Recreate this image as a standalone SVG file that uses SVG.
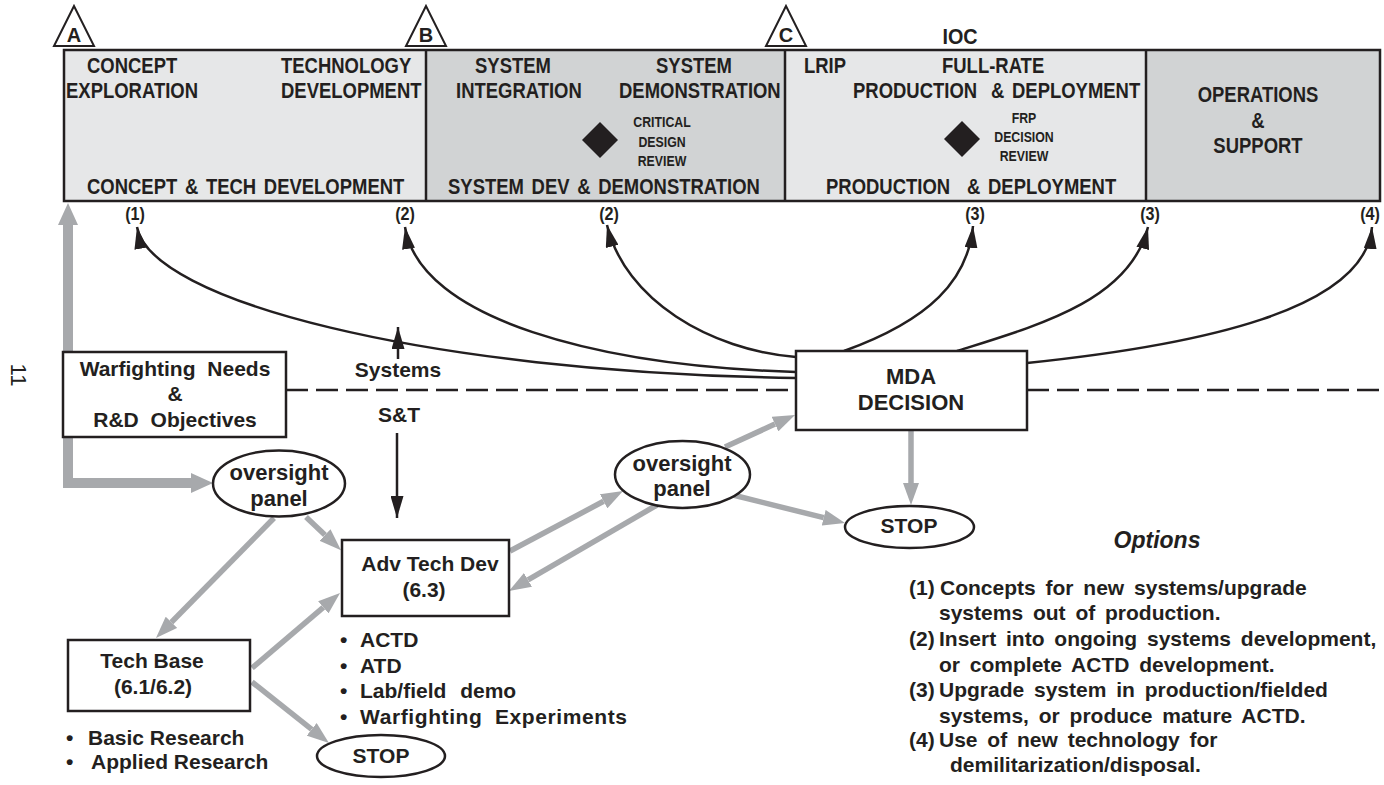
<svg xmlns="http://www.w3.org/2000/svg" width="1384" height="785" viewBox="0 0 1384 785">
<defs>
<style>
text { font-family: "Liberation Sans", Arial, sans-serif; font-weight: bold; fill: #231f20; }
.hdr { font-size: 22px; word-spacing: 3px; }
.sm { font-size: 14px; text-anchor: middle; }
.num { font-size: 19px; text-anchor: middle; }
.t { font-size: 21px; }
.mid { text-anchor: middle; }
.opt { font-size: 21px; word-spacing: 4px; }
.box { fill: #fff; stroke: #231f20; stroke-width: 2.5; }
.lt { fill: #e6e7e8; }
.dk { fill: #d1d3d4; }
.edge { fill: none; stroke: #231f20; stroke-width: 2.5; }
.blk { fill: none; stroke: #231f20; stroke-width: 2.5; marker-end: url(#ah); }
.gry { fill: none; stroke: #a7a9ac; stroke-width: 5.5; marker-end: url(#gh); }
.tri { fill: #fff; stroke: #231f20; stroke-width: 2; }
</style>
<marker id="ah" markerUnits="userSpaceOnUse" markerWidth="22" markerHeight="13" refX="22" refY="6.5" orient="auto" viewBox="0 0 22 13"><path d="M0,0 L22,6.5 L0,13 z" fill="#231f20"/></marker>
<marker id="gh" markerUnits="userSpaceOnUse" markerWidth="22" markerHeight="16" refX="0" refY="8" orient="auto" viewBox="0 0 22 16"><path d="M0,0 L22,8 L0,16 z" fill="#a7a9ac"/></marker>
<marker id="th" markerUnits="userSpaceOnUse" markerWidth="22" markerHeight="20" refX="0" refY="10" orient="auto-start-reverse" viewBox="0 0 22 20"><path d="M0,0 L22,10 L0,20 z" fill="#a7a9ac"/></marker>
</defs>
<rect width="1384" height="785" fill="#fff"/>

<g id="phases">
<rect x="64" y="50" width="362" height="151" class="lt"/>
<rect x="426" y="50" width="359" height="151" class="dk"/>
<rect x="785" y="50" width="361" height="151" class="lt"/>
<rect x="1146" y="50" width="234" height="151" class="dk"/>
<rect x="64" y="50" width="1316" height="151" class="edge"/>
<line x1="426" y1="50" x2="426" y2="201" class="edge"/>
<line x1="785" y1="50" x2="785" y2="201" class="edge"/>
<line x1="1146" y1="50" x2="1146" y2="201" class="edge"/>
</g>

<g id="milestone-A">
<polygon points="74,6 54,46 94,46" class="tri"/>
<text x="74" y="42" class="mid" font-size="20">A</text>
</g>
<g id="milestone-B">
<polygon points="426,6 406,46 446,46" class="tri"/>
<text x="426" y="42" class="mid" font-size="20">B</text>
</g>
<g id="milestone-C">
<polygon points="786,6 766,46 806,46" class="tri"/>
<text x="786" y="42" class="mid" font-size="20">C</text>
</g>
<text transform="translate(960,44) scale(0.9,1)" class="mid" font-size="22">IOC</text>

<g id="phase-concept">
<text transform="translate(87,73) scale(0.84,1)" class="hdr">CONCEPT</text>
<text transform="translate(66,98) scale(0.84,1)" class="hdr">EXPLORATION</text>
<text transform="translate(281,73) scale(0.84,1)" class="hdr">TECHNOLOGY</text>
<text transform="translate(281,98) scale(0.84,1)" class="hdr">DEVELOPMENT</text>
<text transform="translate(87,194) scale(0.84,1)" class="hdr">CONCEPT &amp; TECH DEVELOPMENT</text>
</g>

<g id="phase-sdd">
<text transform="translate(475,73) scale(0.84,1)" class="hdr">SYSTEM</text>
<text transform="translate(456,98) scale(0.84,1)" class="hdr">INTEGRATION</text>
<text transform="translate(656,73) scale(0.84,1)" class="hdr">SYSTEM</text>
<text transform="translate(619,98) scale(0.84,1)" class="hdr">DEMONSTRATION</text>
<polygon points="600,122 618,140 600,158 582,140" fill="#231f20"/>
<text transform="translate(662,127) scale(0.88,1)" class="sm" font-size="15">CRITICAL</text>
<text transform="translate(662,147) scale(0.88,1)" class="sm" font-size="15">DESIGN</text>
<text transform="translate(662,166) scale(0.88,1)" class="sm" font-size="15">REVIEW</text>
<text transform="translate(448,194) scale(0.84,1)" class="hdr">SYSTEM DEV &amp; DEMONSTRATION</text>
</g>

<g id="phase-pd">
<text transform="translate(804,73) scale(0.84,1)" class="hdr">LRIP</text>
<text transform="translate(942,73) scale(0.84,1)" class="hdr">FULL-RATE</text>
<text transform="translate(853,98) scale(0.84,1)" class="hdr">PRODUCTION</text>
<text transform="translate(991,98) scale(0.84,1)" class="hdr">&amp; DEPLOYMENT</text>
<polygon points="962,121 980,139 962,157 944,139" fill="#231f20"/>
<text transform="translate(1024,123) scale(0.88,1)" class="sm" font-size="15">FRP</text>
<text transform="translate(1024,142) scale(0.88,1)" class="sm" font-size="15">DECISION</text>
<text transform="translate(1024,161) scale(0.88,1)" class="sm" font-size="15">REVIEW</text>
<text transform="translate(826,194) scale(0.84,1)" class="hdr">PRODUCTION</text>
<text transform="translate(967,194) scale(0.84,1)" class="hdr">&amp; DEPLOYMENT</text>
</g>

<g id="phase-os">
<text transform="translate(1258,102) scale(0.84,1)" class="hdr mid">OPERATIONS</text>
<text transform="translate(1258,128) scale(0.84,1)" class="hdr mid">&amp;</text>
<text transform="translate(1258,153) scale(0.84,1)" class="hdr mid">SUPPORT</text>
</g>

<g id="option-labels">
<text transform="translate(135,220) scale(0.85,1)" class="num" font-size="21">(1)</text>
<text transform="translate(405,220) scale(0.85,1)" class="num" font-size="21">(2)</text>
<text transform="translate(609,220) scale(0.85,1)" class="num" font-size="21">(2)</text>
<text transform="translate(975,220) scale(0.85,1)" class="num" font-size="21">(3)</text>
<text transform="translate(1150,220) scale(0.85,1)" class="num" font-size="21">(3)</text>
<text transform="translate(1370,220) scale(0.85,1)" class="num" font-size="21">(4)</text>
</g>

<g id="connectors">
<path d="M796,378 C420,372 150,300 137,227" class="blk"/>
<path d="M796,372 C600,366 420,320 405,227" class="blk"/>
<path d="M796,357 C710,350 625,300 607,225" class="blk"/>
<path d="M844,351 C930,320 968,280 973,226" class="blk"/>
<path d="M957,351 C1040,325 1130,300 1148,227" class="blk"/>
<path d="M1027,363 C1200,345 1365,310 1372,227" class="blk"/>
<line x1="398" y1="359" x2="398" y2="327" class="blk"/>
<line x1="397" y1="433" x2="397" y2="518" class="blk"/>
<line x1="286" y1="390" x2="796" y2="390" stroke="#231f20" stroke-width="2.5" stroke-dasharray="22 8"/>
<line x1="1027" y1="390" x2="1384" y2="390" stroke="#231f20" stroke-width="2.5" stroke-dasharray="22 8"/>
<path d="M68,225 L68,483 L191,483" fill="none" stroke="#a7a9ac" stroke-width="10" stroke-linejoin="miter" marker-start="url(#th)" marker-end="url(#th)"/>
<path d="M306,517 L325,535" class="gry"/>
<path d="M274,518 L171.4,622.3" class="gry"/>
<path d="M252,668 L323.3,607.3" class="gry"/>
<path d="M252,682 L311.7,729.3" class="gry"/>
<path d="M510,551 L603.6,501.3" class="gry"/>
<path d="M657,505 L528,579.9" class="gry"/>
<path d="M725,447 L775,424.1" class="gry"/>
<path d="M733,495 L823.7,517.7" class="gry"/>
<path d="M911,431 L911,483" class="gry"/>
</g>

<g id="warfighting-needs">
<rect x="63" y="352" width="223" height="85" class="box"/>
<text x="175" y="376" class="t mid" word-spacing="6">Warfighting Needs</text>
<text x="175" y="401" class="t mid">&amp;</text>
<text x="175" y="427" class="t mid" word-spacing="6">R&amp;D Objectives</text>
</g>

<text x="398" y="377" class="t mid" font-size="22">Systems</text>
<text x="399" y="422" class="t mid" font-size="22">S&amp;T</text>

<g id="mda-decision">
<rect x="796" y="351" width="231" height="79" class="box"/>
<text x="911" y="384" class="mid" font-size="22">MDA</text>
<text x="911" y="410" class="mid" font-size="22">DECISION</text>
</g>

<g id="oversight-panel-1">
<ellipse cx="279" cy="483.5" rx="66" ry="33" class="box"/>
<text x="279" y="480" class="mid" font-size="22">oversight</text>
<text x="279" y="506" class="mid" font-size="22">panel</text>
</g>

<g id="oversight-panel-2">
<ellipse cx="682.5" cy="474.5" rx="67.5" ry="33.5" class="box"/>
<text x="682" y="471" class="mid" font-size="22">oversight</text>
<text x="682" y="496" class="mid" font-size="22">panel</text>
</g>

<g id="stop-1">
<ellipse cx="909.5" cy="527" rx="64.5" ry="21" class="box"/>
<text x="909" y="533" class="mid" font-size="21">STOP</text>
</g>

<g id="stop-2">
<ellipse cx="381" cy="756" rx="64" ry="21" class="box"/>
<text x="381" y="763" class="mid" font-size="21">STOP</text>
</g>

<g id="adv-tech-dev">
<rect x="342" y="540" width="167" height="76" class="box"/>
<text x="430" y="571" class="t mid">Adv Tech Dev</text>
<text x="424" y="597" class="t mid">(6.3)</text>
</g>
<g id="adv-tech-list">
<text x="340" y="647" class="t">•</text><text x="360" y="647" class="t">ACTD</text>
<text x="340" y="673" class="t">•</text><text x="360" y="673" class="t">ATD</text>
<text x="340" y="698" class="t">•</text><text x="360" y="698" class="t" word-spacing="8">Lab/field demo</text>
<text x="340" y="724" class="t">•</text><text x="360" y="724" class="t" word-spacing="6" letter-spacing="0.6">Warfighting Experiments</text>
</g>

<g id="tech-base">
<rect x="68" y="640" width="182" height="71" class="box"/>
<text x="152" y="668" class="t mid">Tech Base</text>
<text x="153" y="694" class="t mid">(6.1/6.2)</text>
</g>
<g id="tech-base-list">
<text x="66" y="745" class="t">•</text><text x="88" y="745" class="t">Basic Research</text>
<text x="66" y="769" class="t">•</text><text x="91" y="769" class="t">Applied Research</text>
</g>

<g id="options">
<text x="1157" y="548" class="mid" font-size="23" font-style="italic">Options</text>
<text x="909" y="595" class="opt">(1)</text><text x="940" y="595" class="opt">Concepts for new systems/upgrade</text>
<text x="939" y="620" class="opt">systems out of production.</text>
<text x="909" y="646" class="opt">(2)</text><text x="939" y="646" class="opt">Insert into ongoing systems development,</text>
<text x="939" y="672" class="opt">or complete ACTD development.</text>
<text x="909" y="697" class="opt">(3)</text><text x="939" y="697" class="opt">Upgrade system in production/fielded</text>
<text x="939" y="723" class="opt">systems, or produce mature ACTD.</text>
<text x="909" y="747" class="opt">(4)</text><text x="939" y="747" class="opt">Use of new technology for</text>
<text x="950" y="772" class="opt">demilitarization/disposal.</text>
</g>

<text transform="translate(11,375) rotate(90)" class="mid" font-size="22" style="font-weight:normal">11</text>
</svg>
